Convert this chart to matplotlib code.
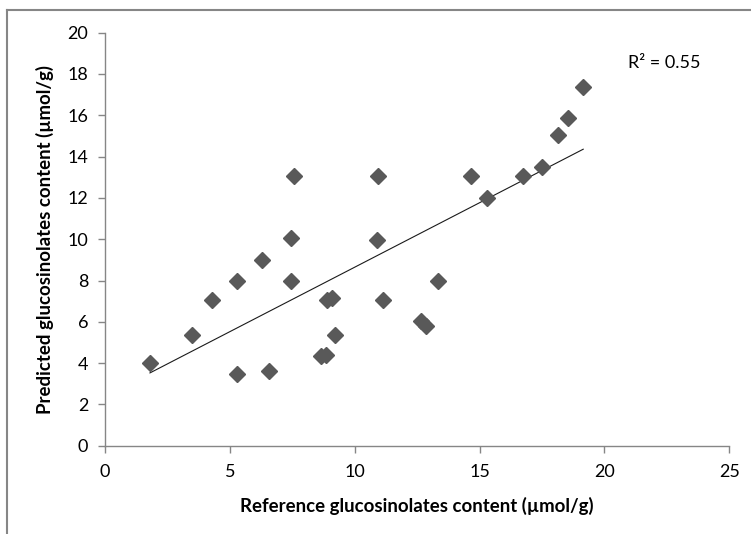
import numpy as np
import matplotlib
matplotlib.use('Agg')
import matplotlib.pyplot as plt
from matplotlib.lines import Line2D

plt.rcParams['font.family'] = ['Lato', 'DejaVu Sans']

# reference vs predicted glucosinolates (µmol/g)
reference = [1.8, 3.5, 4.3, 5.3, 5.3, 6.3, 6.55, 7.45, 7.45, 7.55,
             8.65, 8.85, 8.9, 9.1, 9.2, 10.9, 10.95, 11.15, 12.65, 12.85,
             13.35, 14.65, 15.3, 16.75, 17.5, 18.15, 18.55, 19.15]
predicted = [4.0, 5.35, 7.05, 8.0, 3.45, 9.0, 3.6, 10.05, 8.0, 13.05,
             4.35, 4.4, 7.05, 7.15, 5.35, 9.95, 13.05, 7.05, 6.05, 5.8,
             8.0, 13.05, 12.0, 13.05, 13.5, 15.05, 15.85, 17.35]
r2_text = 'R² = 0.55'

x = np.array(reference)
y = np.array(predicted)
slope, intercept = np.polyfit(x, y, 1)
xfit = np.array([x.min(), x.max()])

fig = plt.figure(figsize=(7.51, 5.34), dpi=100)
ax = fig.add_axes([105/751, 1 - 445.7/534, (729.3 - 105)/751, (445.7 - 32.7)/534])

ax.plot(xfit, slope * xfit + intercept, color='#1a1a1a', lw=0.8, zorder=2)
ax.plot(x, y, linestyle='none', marker='D', ms=8.6, color='#595959', zorder=3)

ax.set_xlim(0, 25)
ax.set_ylim(0, 20)
ax.set_xticks(range(0, 26, 5))
ax.set_yticks(range(0, 21, 2))

grey = '#868686'
for side in ['top', 'right']:
    ax.spines[side].set_visible(False)
for side in ['left', 'bottom']:
    ax.spines[side].set_color(grey)
    ax.spines[side].set_linewidth(1)
ax.tick_params(axis='both', direction='out', length=5, width=1, color=grey,
               labelsize=13, labelcolor='#000000')
ax.tick_params(axis='x', pad=8)
ax.tick_params(axis='y', pad=7)

ax.set_xlabel('Reference glucosinolates content (µmol/g)', fontsize=13.4,
              fontweight='bold', labelpad=12)
ax.set_ylabel('Predicted glucosinolates content (µmol/g)', fontsize=13.4,
              fontweight='bold', labelpad=10)

ax.text(628/751, 1 - 63/534, r2_text, transform=fig.transFigure,
        fontsize=13, va='center', ha='left')

# chart frame (cropped)
fig.add_artist(Line2D([7/751, 1], [1 - 10/534, 1 - 10/534], color=grey, lw=1.5))
fig.add_artist(Line2D([7/751, 7/751], [0, 1 - 10/534], color=grey, lw=1.5))

fig.savefig('out.png', dpi=100)
